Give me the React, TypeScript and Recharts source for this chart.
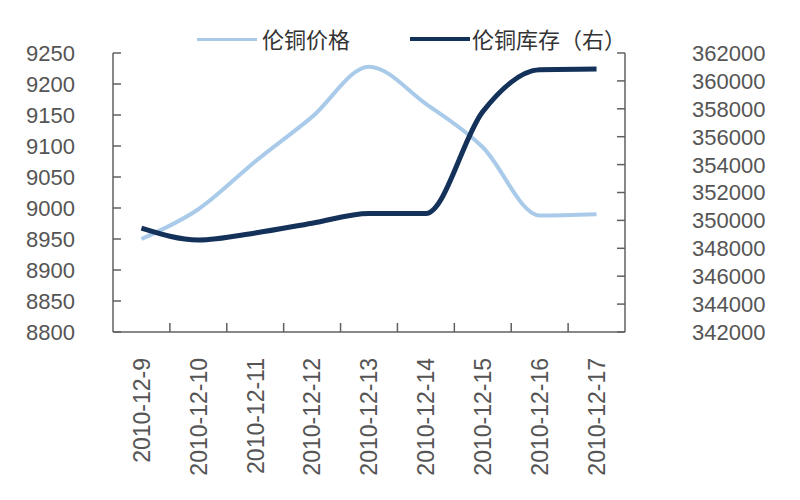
import { LineChart, Line, XAxis, YAxis, Legend } from 'recharts'

const dates = ['2010-12-9', '2010-12-10', '2010-12-11', '2010-12-12', '2010-12-13', '2010-12-14', '2010-12-15', '2010-12-16', '2010-12-17']
const copperPrice = [8950, 8998, 9075, 9147, 9228, 9168, 9098, 8988, 8990]
const copperStock = [349450, 348600, 349100, 349800, 350500, 350500, 357800, 360800, 360850]

const priceTicks = [8800, 8850, 8900, 8950, 9000, 9050, 9100, 9150, 9200, 9250]
const stockTicks = [342000, 344000, 346000, 348000, 350000, 352000, 354000, 356000, 358000, 360000, 362000]

const data = dates.map((d, i) => ({ date: d, price: copperPrice[i], stock: copperStock[i] }))

const W = 784
const H = 484
const PLOT_W = 512
const HALF_BAND = PLOT_W / dates.length / 2
const AXIS = '#606060'
const TEXT = '#555'
const LIGHT = '#a9cbe9'
const DARK = '#14315a'
const FONT = '"Liberation Sans", Arial, sans-serif'

// ticks drawn inward, labels pushed away from axis
const LeftTick = (props: any) => {
  const { x, y, payload } = props
  return (
    <g>
      <line x1={x} y1={y} x2={x + 8} y2={y} stroke={AXIS} strokeWidth={1.5} />
      <text x={x - 38} y={y} dy="0.36em" textAnchor="end" fontSize={22} fill={TEXT} fontFamily={FONT}>
        {payload.value}
      </text>
    </g>
  )
}

const RightTick = (props: any) => {
  const { x, y, payload } = props
  return (
    <g>
      <line x1={x} y1={y} x2={x - 8} y2={y} stroke={AXIS} strokeWidth={1.5} />
      <text x={x + 67} y={y} dy="0.36em" textAnchor="start" fontSize={22} fill={TEXT} fontFamily={FONT}>
        {payload.value}
      </text>
    </g>
  )
}

const BottomTick = (props: any) => {
  const { x, y, payload, index } = props
  return (
    <g>
      {index < dates.length - 1 && (
        <line x1={x + HALF_BAND} y1={y} x2={x + HALF_BAND} y2={y - 9} stroke={AXIS} strokeWidth={1.5} />
      )}
      <text
        x={0}
        y={0}
        dy="0.36em"
        textAnchor="end"
        fontSize={23}
        fill={TEXT}
        fontFamily={FONT}
        transform={`translate(${x},${y + 26}) rotate(-90)`}
      >
        {payload.value}
      </text>
    </g>
  )
}

const LegendBox = () => (
  <div style={{ position: 'relative', height: 26, fontFamily: '"Noto Sans CJK SC", sans-serif', fontSize: 22, color: '#333' }}>
    <div style={{ position: 'absolute', left: 189, top: 11, width: 60, height: 3, background: LIGHT }} />
    <span style={{ position: 'absolute', left: 254, top: -2, lineHeight: '26px' }}>伦铜价格</span>
    <div style={{ position: 'absolute', left: 402, top: 10, width: 60, height: 4, background: DARK }} />
    <span style={{ position: 'absolute', left: 464, top: -2, lineHeight: '26px' }}>伦铜库存（右）</span>
  </div>
)

export default function App() {
  return (
    <LineChart width={W} height={H} data={data} margin={{ top: 19, right: 0, bottom: 0, left: 0 }}>
      <Legend verticalAlign="top" align="left" height={26} content={<LegendBox />} />
      <XAxis
        dataKey="date"
        height={160}
        padding={{ left: HALF_BAND, right: HALF_BAND }}
        tickSize={0}
        tickMargin={0}
        tickLine={false}
        interval={0}
        stroke={AXIS}
        strokeWidth={1.5}
        tick={<BottomTick />}
      />
      <YAxis
        yAxisId="left"
        width={105}
        domain={[8800, 9250]}
        ticks={priceTicks}
        tickSize={0}
        tickMargin={0}
        tickLine={false}
        stroke={AXIS}
        strokeWidth={1.5}
        tick={<LeftTick />}
        interval={0}
      />
      <YAxis
        yAxisId="right"
        orientation="right"
        width={167}
        domain={[342000, 362000]}
        ticks={stockTicks}
        tickSize={0}
        tickMargin={0}
        tickLine={false}
        stroke={AXIS}
        strokeWidth={1.5}
        tick={<RightTick />}
        interval={0}
      />
      <Line
        yAxisId="left"
        type="monotone"
        dataKey="price"
        name="伦铜价格"
        stroke={LIGHT}
        strokeWidth={4}
        dot={false}
        isAnimationActive={false}
      />
      <Line
        yAxisId="right"
        type="monotone"
        dataKey="stock"
        name="伦铜库存（右）"
        stroke={DARK}
        strokeWidth={5}
        dot={false}
        isAnimationActive={false}
      />
    </LineChart>
  )
}
